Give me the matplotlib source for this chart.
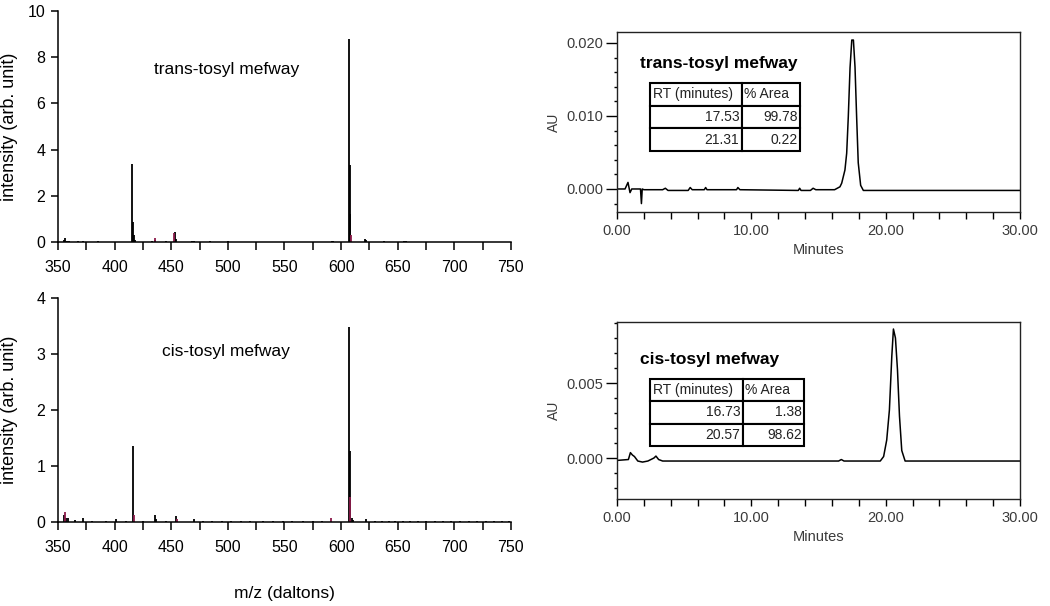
import matplotlib
matplotlib.use('Agg')
import matplotlib.pyplot as plt
from matplotlib.ticker import MultipleLocator, FormatStrFormatter

plt.rcParams['font.family'] = ['Liberation Sans', 'DejaVu Sans']

# mass spectra (m/z, intensity), black bars and dark red bars
trans_mz = [355, 356, 358, 360, 368, 372, 385, 415.7, 416.4, 417.1, 417.8, 433, 436, 445,
            453.5, 454.2, 468, 470, 484, 500, 592, 593, 606.8, 607.5, 608.2, 621, 622, 638, 656, 657]
trans_int = [0.1, 0.18, 0.06, 0.05, 0.05, 0.06, 0.05, 3.38, 0.86, 0.3, 0.08, 0.05, 0.1, 0.05,
             0.42, 0.15, 0.05, 0.05, 0.04, 0.03, 0.05, 0.04, 8.78, 3.33, 1.22, 0.12, 0.08, 0.04, 0.06, 0.04]
trans_red_mz = [435.3, 452.8, 608.9]
trans_red_int = [0.18, 0.4, 0.3]

cis_mz = [355.5, 357, 358.5, 365, 372, 401, 416.3, 435.5, 436.2, 454, 470, 606.8, 607.5,
          609.5, 610.3, 622]
cis_int = [0.12, 0.08, 0.08, 0.04, 0.07, 0.05, 1.35, 0.13, 0.06, 0.1, 0.05, 3.49, 1.27,
           0.08, 0.04, 0.05]
cis_red_mz = [356.3, 417.1, 455, 591, 608.3]
cis_red_int = [0.17, 0.12, 0.06, 0.07, 0.44]
cis_noise_mz = [380, 392, 410, 425, 445, 478, 486, 495, 503, 512, 520, 531, 540, 549, 557, 566,
                575, 583, 630, 636, 642, 648, 655, 661, 668, 675, 683, 690, 697, 705, 713, 720,
                728, 735, 742, 748]
cis_noise_int = [0.02, 0.02, 0.02, 0.02, 0.02, 0.02, 0.015, 0.02, 0.015, 0.02, 0.015, 0.02,
                 0.015, 0.02, 0.015, 0.02, 0.015, 0.02, 0.02, 0.015, 0.02, 0.015, 0.02, 0.015,
                 0.02, 0.015, 0.02, 0.015, 0.02, 0.015, 0.02, 0.015, 0.02, 0.015, 0.02, 0.02]

# HPLC traces (minutes, AU)
trans_trace = [(0.0, 0.0), (0.6, 0.0), (0.82, 0.0009), (0.97, -0.0005), (1.1, 0.0), (1.75, 0.0),
               (1.82, -0.002), (1.88, 0.0), (2.0, -0.0001), (3.4, -0.0001), (3.6, 0.0001),
               (3.8, -0.0002), (5.3, -0.0002), (5.45, 0.0002), (5.6, -0.0001), (6.5, -0.0001),
               (6.6, 0.0002), (6.7, -0.0001), (8.9, -0.0001), (9.0, 0.0002), (9.15, -0.0001),
               (13.5, -0.0002), (13.6, 0.0001), (13.7, -0.0002), (14.4, -0.0002), (14.6, 0.0001),
               (14.8, -0.0001), (16.2, -0.0001), (16.6, 0.0003), (16.73, 0.0008), (16.97, 0.0026),
               (17.1, 0.0049), (17.22, 0.0099), (17.35, 0.0166), (17.48, 0.0204), (17.6, 0.0204),
               (17.72, 0.0167), (17.84, 0.0099), (17.96, 0.0036), (18.14, 0.0005),
               (18.34, -0.0002), (30.0, -0.0002)]
cis_trace = [(0.0, -0.00016), (0.85, -0.0001), (1.0, 0.00036), (1.15, 0.0002), (1.3, 0.0001),
             (1.55, -0.0002), (1.9, -0.00027), (2.3, -0.0002), (2.75, 0.0), (2.9, 0.00013),
             (3.1, -0.0001), (3.4, -0.0002), (16.5, -0.0002), (16.7, -0.0001), (16.9, -0.0002),
             (19.6, -0.0002), (19.85, 0.0001), (20.08, 0.0012), (20.28, 0.0032), (20.46, 0.0068),
             (20.58, 0.0086), (20.73, 0.0080), (20.88, 0.0059), (21.03, 0.0028), (21.2, 0.0005),
             (21.45, -0.0002), (30.0, -0.0002)]

trans_table = [['17.53', '99.78'], ['21.31', '0.22']]
cis_table = [['16.73', '1.38'], ['20.57', '98.62']]
table_header = ['RT (minutes)', '% Area']

RED = '#8c1a4a'
GREY = '#3a3a3a'

fig = plt.figure(figsize=(10.5, 6.06), dpi=100)
ax1 = fig.add_axes([0.0552, 0.6007, 0.4314, 0.3812])
ax2 = fig.add_axes([0.0552, 0.1386, 0.4314, 0.3696])
ax3 = fig.add_axes([0.5876, 0.6502, 0.3838, 0.2970])
ax4 = fig.add_axes([0.5876, 0.1766, 0.3838, 0.2921])


def spectrum(ax, mz, inten, red_mz, red_int, ymax, ystep, name, tx, ty):
    ax.vlines(mz, 0, inten, colors='black', linewidth=1.3)
    ax.vlines(red_mz, 0, red_int, colors=RED, linewidth=1.3)
    ax.set_xlim(350, 750)
    ax.set_ylim(0, ymax)
    ax.xaxis.set_major_locator(MultipleLocator(50))
    ax.xaxis.set_minor_locator(MultipleLocator(25))
    ax.yaxis.set_major_locator(MultipleLocator(ystep))
    for s in ['top', 'right']:
        ax.spines[s].set_visible(False)
    for s in ['left', 'bottom']:
        ax.spines[s].set_linewidth(1.1)
    ax.tick_params(axis='x', which='both', direction='out', length=6, width=1.1, pad=7,
                   labelsize=11.5)
    ax.tick_params(axis='y', direction='out', length=5, width=1.1, pad=4, labelsize=11.5)
    ax.set_ylabel('intensity (arb. unit)', fontsize=13)
    ax.yaxis.set_label_coords(-0.088, 0.5)
    ax.text(tx, ty, name, fontsize=12.5, va='center', ha='left')


spectrum(ax1, trans_mz, trans_int, trans_red_mz, trans_red_int, 10, 2, 'trans-tosyl mefway', 435, 7.45)
spectrum(ax2, cis_mz, cis_int, cis_red_mz, cis_red_int, 4, 1, 'cis-tosyl mefway', 442, 3.05)
ax2.vlines(cis_noise_mz, 0, cis_noise_int, colors='black', linewidth=1.3)
ax2.set_xlabel('m/z (daltons)', fontsize=12.5, labelpad=22)


def chromatogram(ax, trace, ylim, ymajor, yminor, name, rows, bbox, colw):
    t = [p[0] for p in trace]
    au = [p[1] for p in trace]
    ax.plot(t, au, color='black', linewidth=1.1)
    ax.set_xlim(0, 30)
    ax.set_ylim(*ylim)
    ax.xaxis.set_major_locator(MultipleLocator(10))
    ax.xaxis.set_minor_locator(MultipleLocator(2))
    ax.yaxis.set_major_locator(MultipleLocator(ymajor))
    ax.yaxis.set_minor_locator(MultipleLocator(yminor))
    ax.xaxis.set_major_formatter(FormatStrFormatter('%.2f'))
    ax.yaxis.set_major_formatter(FormatStrFormatter('%.3f'))
    for s in ax.spines.values():
        s.set_linewidth(1.0)
        s.set_color('#222222')
    ax.tick_params(axis='x', which='both', direction='out', length=5, width=1.0, pad=4,
                   labelsize=10.5, labelcolor=GREY)
    ax.tick_params(axis='y', which='major', direction='out', length=8, width=1.0, pad=2,
                   labelsize=10.5, labelcolor=GREY)
    ax.tick_params(axis='y', which='minor', direction='out', length=2.5, width=1.0)
    ax.set_xlabel('Minutes', fontsize=10.5, color=GREY, labelpad=3)
    ax.set_ylabel('AU', fontsize=10, color=GREY, labelpad=4)
    ax.yaxis.set_label_coords(-0.138, 0.5)
    ax.text(0.057, bbox[1] + bbox[3] + 0.11, name, transform=ax.transAxes, fontsize=12.5,
            fontweight='bold', va='center', ha='left')
    tab = ax.table(cellText=rows, colLabels=table_header, bbox=bbox, colWidths=colw,
                   cellLoc='right', colLoc='left')
    tab.auto_set_font_size(False)
    tab.set_fontsize(10)
    for cell in tab.get_celld().values():
        cell.set_linewidth(1.5)
        cell.set_edgecolor('black')
        cell.get_text().set_color('#222222')
        cell.PAD = 0.03


chromatogram(ax3, trans_trace, (-0.00315, 0.0215), 0.010, 0.002, 'trans-tosyl mefway',
             trans_table, [0.082, 0.339, 0.372, 0.378], [0.613, 0.387])
chromatogram(ax4, cis_trace, (-0.00273, 0.00907), 0.005, 0.001, 'cis-tosyl mefway',
             cis_table, [0.082, 0.30, 0.382, 0.378], [0.604, 0.396])

fig.savefig('out.png', dpi=100)
